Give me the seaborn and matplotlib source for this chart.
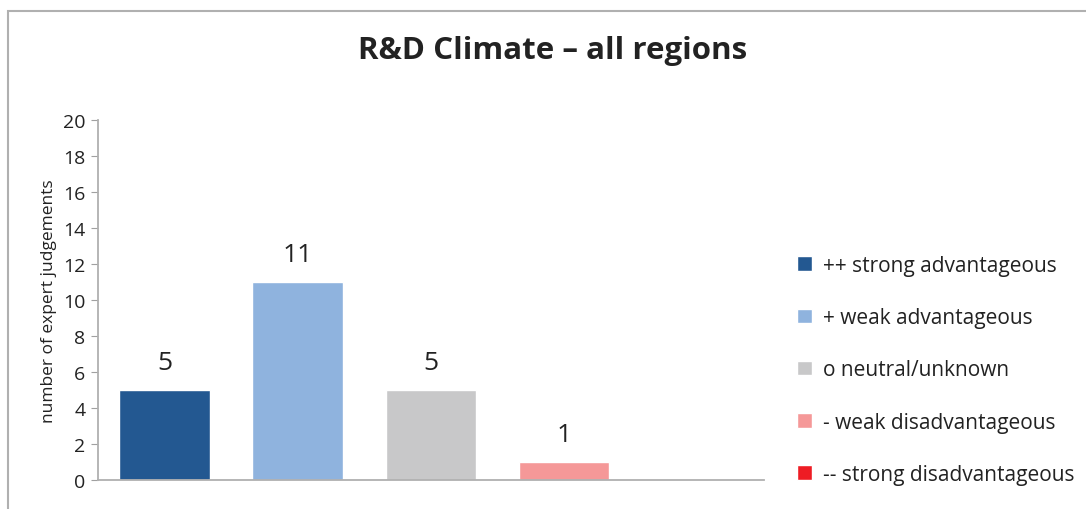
import matplotlib
matplotlib.use("Agg")
import matplotlib.pyplot as plt
import seaborn as sns
from matplotlib.patches import Rectangle

categories = ["++ strong advantageous", "+ weak advantageous", "o neutral/unknown",
              "- weak disadvantageous", "-- strong disadvantageous"]
judgements = [5, 11, 5, 1, 0]
colors = ["#235891", "#8fb3de", "#c8c8c9", "#f59898", "#ee1c24"]

sns.set_style("white")
plt.rcParams["font.family"] = ["Open Sans", "DejaVu Sans"]

fig = plt.figure(figsize=(10.86, 5.10), dpi=100)
ax = fig.add_axes([0.0902, 0.0569, 0.6133, 0.7058])

sns.barplot(x=categories, y=judgements, hue=categories, palette=colors,
            width=0.68, legend=True, ax=ax, saturation=1)

for cont, v in zip(ax.containers, judgements):
    ax.bar_label(cont, labels=[str(v) if v > 0 else ""], padding=11,
                 fontsize=19, color="#222222")

ax.set_ylim(0, 20)
ax.set_yticks(range(0, 21, 2))
ax.set_xticks([])
ax.set_xlabel("")
ax.set_ylabel("number of expert judgements", fontsize=12.5, color="#222222",
              labelpad=4)
ax.tick_params(axis="y", labelsize=14, length=5, color="#a0a0a0",
               direction="out", left=True, labelcolor="#222222", pad=4)
for side in ["top", "right"]:
    ax.spines[side].set_visible(False)
for side in ["left", "bottom"]:
    ax.spines[side].set_color("#b0b0b0")
    ax.spines[side].set_linewidth(1.3)

handles, labels = ax.get_legend_handles_labels()
ax.legend(handles, labels, loc="upper left", bbox_to_anchor=(0.717, 0.535),
          bbox_transform=fig.transFigure, frameon=False, fontsize=15,
          handlelength=0.7, handleheight=0.7, handletextpad=0.55,
          labelspacing=1.5, labelcolor="#222222")

fig.text(0.509, 0.90, "R&D Climate \u2013 all regions", ha="center", va="center",
         fontsize=22.5, fontweight="bold", color="#222222")

fig.patches.append(Rectangle((8 / 1086, -0.01), 1.0, 1 - 12 / 510 + 0.01,
                             transform=fig.transFigure, fill=False,
                             edgecolor="#b0b0b0", linewidth=1.5))

fig.savefig("out.png", dpi=100)
